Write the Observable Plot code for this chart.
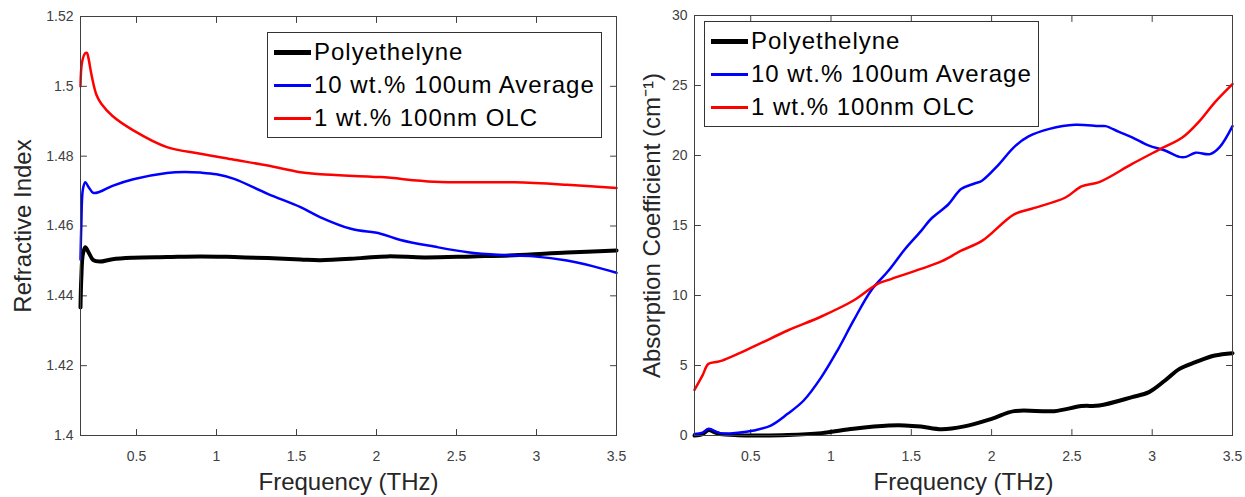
<!DOCTYPE html>
<html>
<head>
<meta charset="utf-8">
<script src="https://cdn.jsdelivr.net/npm/d3@7"></script>
<script src="https://cdn.jsdelivr.net/npm/@observablehq/plot@0.6"></script>
<style>
  html, body { margin: 0; padding: 0; background: #fff; }
  #wrap { position: relative; width: 1245px; height: 497px; overflow: hidden; background: #fff; font-family: "Liberation Sans", Arial, sans-serif; }
  .panel { position: absolute; top: 0; }
  .panel svg g[aria-label="x-axis label"] text,
  .panel svg g[aria-label="y-axis label"] text { font-size: 24px; fill: #262626; }
  .legend { position: absolute; background: #fff; border: 1px solid #333; box-sizing: border-box; }
  .legend .row { position: absolute; left: 0; height: 30px; width: 100%; }
  .legend .sw { position: absolute; left: 6px; width: 37px; }
  .legend .lbl { position: absolute; left: 46px; font-size: 24px; line-height: 30px; color: #000; white-space: nowrap; letter-spacing: 1px; }
</style>
</head>
<body>
<div id="wrap">
  <div class="panel" id="left"></div>
  <div class="panel" id="right"></div>
</div>
<script>
// ---------- Data ----------
const seriesNames = ["Polyethelyne", "10 wt.% 100um Average", "1 wt.% 100nm OLC"];
const seriesColors = ["#000000", "#0000ff", "#ff0000"];
const seriesWidths = [4, 2.5, 2.5];

const xTicks = [0.5, 1, 1.5, 2, 2.5, 3, 3.5];
const yTicksIndex = [1.4, 1.42, 1.44, 1.46, 1.48, 1.5, 1.52];
const yTicksAbs = [0, 5, 10, 15, 20, 25, 30];

// Refractive index panel
const nPolyF = [0.15, 0.155, 0.165, 0.18, 0.2, 0.23, 0.27, 0.35, 0.48, 0.69, 0.9, 1.11, 1.32, 1.525, 1.65, 1.9, 2.07, 2.3, 2.6, 2.86, 3.19, 3.5];
const nPolyV = [1.4367, 1.445, 1.452, 1.4539, 1.4525, 1.4502, 1.4498, 1.4505, 1.4509, 1.4511, 1.4513, 1.4511, 1.4508, 1.4504, 1.4502, 1.4508, 1.4513, 1.451, 1.4513, 1.4516, 1.4524, 1.453];

const nAvgF = [0.15, 0.155, 0.165, 0.18, 0.2, 0.23, 0.27, 0.35, 0.48, 0.69, 0.8, 0.9, 1.0, 1.11, 1.32, 1.525, 1.65, 1.84, 2.025, 2.15, 2.36, 2.57, 2.775, 2.98, 3.19, 3.35, 3.5];
const nAvgV = [1.4504, 1.46, 1.4705, 1.4725, 1.4712, 1.4695, 1.4698, 1.4715, 1.4734, 1.4752, 1.4755, 1.4753, 1.4748, 1.4735, 1.4692, 1.4654, 1.4625, 1.4592, 1.4578, 1.456, 1.4541, 1.4525, 1.4517, 1.4513, 1.4501, 1.4485, 1.4466];

const nOlcF = [0.15, 0.16, 0.18, 0.19, 0.2, 0.22, 0.25, 0.28, 0.35, 0.48, 0.69, 0.9, 1.11, 1.32, 1.525, 1.65, 2.025, 2.36, 2.86, 3.19, 3.5];
const nOlcV = [1.5, 1.507, 1.5095, 1.5096, 1.508, 1.503, 1.4975, 1.495, 1.4915, 1.4874, 1.4826, 1.4807, 1.479, 1.4773, 1.4754, 1.4748, 1.474, 1.4727, 1.4725, 1.4718, 1.4709];

// Absorption coefficient panel
const aPolyF = [0.15, 0.2, 0.2375, 0.28, 0.31, 0.42, 0.52, 0.73, 0.94, 1.14, 1.36, 1.46, 1.56, 1.69, 1.83, 2.0, 2.14, 2.39, 2.56, 2.67, 2.875, 2.98, 3.08, 3.17, 3.27, 3.39, 3.5];
const aPolyV = [0.0, 0.1, 0.4, 0.2, 0.1, 0.02, 0.0, 0.03, 0.17, 0.48, 0.71, 0.72, 0.64, 0.45, 0.65, 1.19, 1.74, 1.74, 2.1, 2.14, 2.74, 3.1, 3.93, 4.76, 5.24, 5.71, 5.88];

const aAvgF = [0.15, 0.2, 0.2375, 0.31, 0.42, 0.52, 0.625, 0.73, 0.83, 0.94, 1.04, 1.14, 1.25, 1.36, 1.46, 1.56, 1.625, 1.73, 1.81, 1.89, 1.94, 2.04, 2.14, 2.23, 2.36, 2.52, 2.67, 2.71, 2.79, 2.875, 2.98, 3.08, 3.17, 3.21, 3.27, 3.36, 3.42, 3.5];
const aAvgV = [0.1, 0.2, 0.48, 0.17, 0.2, 0.36, 0.71, 1.55, 2.5, 4.17, 6.07, 8.2, 10.36, 11.8, 13.3, 14.6, 15.5, 16.5, 17.6, 17.98, 18.2, 19.3, 20.6, 21.36, 21.9, 22.2, 22.1, 22.1, 21.7, 21.3, 20.7, 20.36, 19.9, 19.9, 20.2, 20.1, 20.6, 22.1];

const aOlcF = [0.15, 0.2, 0.2375, 0.31, 0.52, 0.73, 0.94, 1.14, 1.29, 1.36, 1.56, 1.69, 1.81, 1.94, 2.14, 2.25, 2.46, 2.56, 2.67, 2.875, 3.04, 3.19, 3.29, 3.39, 3.5];
const aOlcV = [3.26, 4.3, 5.12, 5.31, 6.36, 7.5, 8.5, 9.64, 10.83, 11.12, 11.9, 12.45, 13.2, 13.9, 15.8, 16.2, 17.0, 17.8, 18.1, 19.4, 20.4, 21.3, 22.4, 23.8, 25.1];

function rows(fs, vs, s) { return fs.map((f, i) => ({f, v: vs[i], s})); }

const axisColor = "#404040";
const xDomain = [0.15, 3.5];
// inward tick shape: a plain segment of length l pointing in the vector's direction
const tickShape = {draw(context, l) { context.moveTo(0, 0); context.lineTo(0, -l); }};

function panel({el, left, width, marginLeft, marginRight, marginTop, yDomain, yTicks, yLabel, yLabelOffset, data}) {
  const tickOpts = {length: 6, anchor: "start", shape: tickShape, stroke: axisColor, strokeWidth: 1};
  const chart = Plot.plot({
    width, height: 497,
    marginLeft, marginRight, marginTop, marginBottom: 62,
    x: {domain: xDomain},
    y: {domain: yDomain},
    style: {fontFamily: '"Liberation Sans", Arial, sans-serif', fontSize: "14px", color: axisColor, background: "none", overflow: "visible"},
    marks: [
      Plot.axisX({anchor: "bottom", ticks: xTicks, tickSize: 0, tickPadding: 16, tickFormat: d => String(d), fill: axisColor,
                  label: "Frequency (THz)", labelAnchor: "center", labelArrow: "none", labelOffset: 54}),
      Plot.axisY({anchor: "left", ticks: yTicks, tickSize: 0, tickPadding: 7, tickFormat: d => String(d), fill: axisColor,
                  label: yLabel, labelAnchor: "center", labelArrow: "none", labelOffset: yLabelOffset}),
      // inward tick marks on all four sides
      Plot.vector(xTicks, {x: d => d, y: yDomain[0], rotate: 0, ...tickOpts}),
      Plot.vector(xTicks, {x: d => d, y: yDomain[1], rotate: 180, ...tickOpts}),
      Plot.vector(yTicks, {x: xDomain[0], y: d => d, rotate: 90, ...tickOpts}),
      Plot.vector(yTicks, {x: xDomain[1], y: d => d, rotate: 270, ...tickOpts}),
      ...data.map((d, i) => Plot.line(d, {x: "f", y: "v", stroke: seriesColors[i], strokeWidth: seriesWidths[i], curve: "catmull-rom", strokeLinejoin: "round"})),
      Plot.frame({stroke: axisColor, strokeWidth: 1})
    ]
  });
  const host = document.getElementById(el);
  host.style.left = left + "px";
  host.appendChild(chart);
}

panel({
  el: "left", left: 0, width: 620, marginLeft: 80, marginRight: 4, marginTop: 16,
  yDomain: [1.4, 1.52], yTicks: yTicksIndex, yLabel: "Refractive Index", yLabelOffset: 67,
  data: [rows(nPolyF, nPolyV, 0), rows(nAvgF, nAvgV, 1), rows(nOlcF, nOlcV, 2)]
});
panel({
  el: "right", left: 620, width: 625, marginLeft: 74, marginRight: 13, marginTop: 15,
  yDomain: [0, 30], yTicks: yTicksAbs, yLabel: "Absorption Coefficient (cm\u207B\u00B9)", yLabelOffset: 52,
  data: [rows(aPolyF, aPolyV, 0), rows(aAvgF, aAvgV, 1), rows(aOlcF, aOlcV, 2)]
});

// Legends
function legend(left, top) {
  const box = document.createElement("div");
  box.className = "legend";
  Object.assign(box.style, {left: left + "px", top: top + "px", width: "335px", height: "106px"});
  seriesNames.forEach((name, i) => {
    const row = document.createElement("div");
    row.className = "row";
    row.style.top = (4 + i * 33) + "px";
    const sw = document.createElement("div");
    sw.className = "sw";
    const h = i === 0 ? 5 : 3;
    Object.assign(sw.style, {top: (15 - h / 2) + "px", height: h + "px", background: seriesColors[i]});
    const lbl = document.createElement("div");
    lbl.className = "lbl";
    lbl.textContent = name;
    row.appendChild(sw); row.appendChild(lbl);
    box.appendChild(row);
  });
  document.getElementById("wrap").appendChild(box);
}
legend(267, 32);
legend(704, 21);
</script>
</body>
</html>
